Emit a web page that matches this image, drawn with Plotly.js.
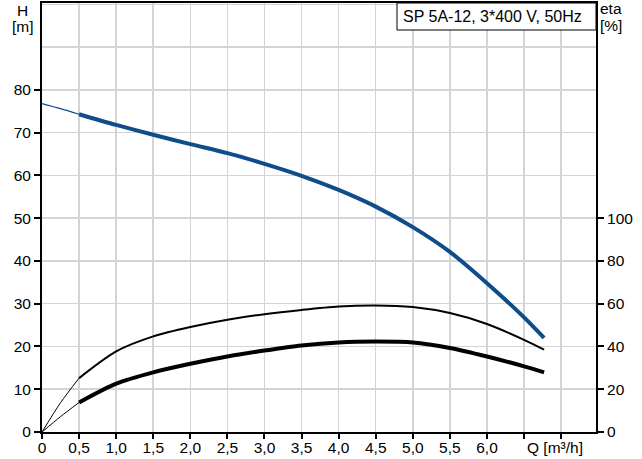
<!DOCTYPE html>
<html>
<head>
<meta charset="utf-8">
<script src="https://cdn.plot.ly/plotly-3.0.1.min.js"></script>
<style>html,body{margin:0;padding:0;background:#fff;}#chart{width:642px;height:459px;}</style>
</head>
<body>
<div id="chart"></div>
<script>
// ---- data ----
var qThin = [0, 0.25, 0.5];
var q = [0.5, 1.0, 1.5, 2.0, 2.5, 3.0, 3.5, 4.0, 4.5, 5.0, 5.5, 6.0, 6.5, 6.77];
var headThin = [76.8, 75.6, 74.3];
var head = [74.3, 71.8, 69.5, 67.3, 65.2, 62.7, 59.9, 56.6, 52.7, 47.9, 42.1, 34.8, 26.8, 22.0];
var etaUpperThin = [0, 13.7, 25.2];
var etaUpper = [25.2, 37.7, 44.7, 49.1, 52.5, 55.1, 57.1, 58.7, 59.2, 58.4, 55.6, 50.5, 43.1, 38.5];
var etaLowerThin = [0, 7.2, 13.8];
var etaLower = [13.8, 22.6, 27.9, 31.9, 35.3, 38.1, 40.5, 41.9, 42.3, 41.9, 39.3, 35.3, 30.7, 27.9];
var xTickVals = [0, 0.5, 1.0, 1.5, 2.0, 2.5, 3.0, 3.5, 4.0, 4.5, 5.0, 5.5, 6.0, 6.5, 7.0];
var xTickText = ['0', '0,5', '1,0', '1,5', '2,0', '2,5', '3,0', '3,5', '4,0', '4,5', '5,0', '5,5', '6,0', '', ''];
var hTickVals = [0, 10, 20, 30, 40, 50, 60, 70, 80];
var etaTickVals = [0, 20, 40, 60, 80, 100];
var titleText = 'SP 5A-12, 3*400 V, 50Hz';

// ---- layout geometry ----
var W = 642, Hh = 459;
var M = {l: 42, r: 46, t: 3, b: 27};
var pw = W - M.l - M.r, ph = Hh - M.t - M.b;
function px(x) { return (x - M.l) / pw; }
function py(y) { return (Hh - M.b - y) / ph; }

var blue = '#0f4c8a';
var gridColor = '#d2d5d8';
var font = {family: 'Liberation Sans, Arial, sans-serif', size: 15.5, color: '#000'};
var sm = 0.8;

var traces = [
  {x: qThin, y: headThin, mode: 'lines', line: {color: blue, width: 1.2, shape: 'spline', smoothing: sm}, yaxis: 'y', hoverinfo: 'skip'},
  {x: q, y: head, mode: 'lines', line: {color: blue, width: 4, shape: 'spline', smoothing: sm}, yaxis: 'y', hoverinfo: 'skip'},
  {x: qThin, y: etaUpperThin, mode: 'lines', line: {color: '#000', width: 1, shape: 'spline', smoothing: sm}, yaxis: 'y2', hoverinfo: 'skip'},
  {x: q, y: etaUpper, mode: 'lines', line: {color: '#000', width: 2, shape: 'spline', smoothing: sm}, yaxis: 'y2', hoverinfo: 'skip'},
  {x: qThin, y: etaLowerThin, mode: 'lines', line: {color: '#000', width: 1, shape: 'spline', smoothing: sm}, yaxis: 'y2', hoverinfo: 'skip'},
  {x: q, y: etaLower, mode: 'lines', line: {color: '#000', width: 4, shape: 'spline', smoothing: sm}, yaxis: 'y2', hoverinfo: 'skip'}
];

var layout = {
  width: W, height: Hh,
  margin: M,
  paper_bgcolor: '#fff', plot_bgcolor: '#fff',
  showlegend: false,
  font: font,
  xaxis: {
    range: [0, 7.47], tickmode: 'array', tickvals: xTickVals, ticktext: xTickText,
    showgrid: true, gridcolor: gridColor, gridwidth: 1.5, zeroline: false,
    showline: true, linecolor: '#000', linewidth: 2, mirror: true,
    ticks: 'outside', ticklen: 5, tickwidth: 2, tickcolor: '#000', tickfont: font,
    ticklabelstandoff: -5
  },
  yaxis: {
    range: [0, 100.3], tickmode: 'array', tickvals: hTickVals,
    showgrid: true, gridcolor: gridColor, gridwidth: 1.5, zeroline: false,
    minor: {tickmode: 'linear', tick0: 0, dtick: 10, showgrid: true, gridcolor: gridColor, gridwidth: 1.5, ticks: ''},
    showline: true, linecolor: '#000', linewidth: 2,
    ticks: 'outside', ticklen: 6, tickwidth: 2, tickcolor: '#000', tickfont: font
  },
  yaxis2: {
    overlaying: 'y', side: 'right', range: [0, 200.6], tickmode: 'array', tickvals: etaTickVals,
    showgrid: false, zeroline: false,
    showline: true, linecolor: '#000', linewidth: 2,
    ticks: 'outside', ticklen: 6, tickwidth: 2, tickcolor: '#000', tickfont: font
  },
  shapes: [
    {type: 'rect', xref: 'paper', yref: 'paper', x0: px(397), x1: 1, y0: py(30), y1: 1,
     line: {color: '#000', width: 1}, fillcolor: '#fff', layer: 'above'}
  ],
  annotations: [
    {text: titleText, xref: 'paper', yref: 'paper', x: px(401), y: py(16.5), xanchor: 'left', yanchor: 'middle', showarrow: false, font: {family: font.family, size: 16, color: '#000'}},
    {text: 'H', xref: 'paper', yref: 'paper', x: px(22.5), y: py(10), xanchor: 'center', yanchor: 'middle', showarrow: false, font: font},
    {text: '[m]', xref: 'paper', yref: 'paper', x: px(22.5), y: py(26.5), xanchor: 'center', yanchor: 'middle', showarrow: false, font: font},
    {text: 'eta', xref: 'paper', yref: 'paper', x: px(611), y: py(9), xanchor: 'center', yanchor: 'middle', showarrow: false, font: font},
    {text: '[%]', xref: 'paper', yref: 'paper', x: px(611), y: py(25), xanchor: 'center', yanchor: 'middle', showarrow: false, font: font},
    {text: 'Q [m³/h]', xref: 'paper', yref: 'paper', x: px(555), y: py(447.5), xanchor: 'center', yanchor: 'middle', showarrow: false, font: font}
  ]
};

Plotly.newPlot('chart', traces, layout, {staticPlot: true, displayModeBar: false});
</script>
</body>
</html>
